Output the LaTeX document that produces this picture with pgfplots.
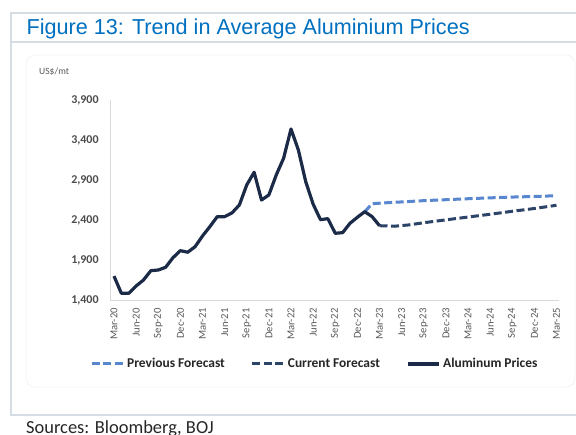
\documentclass[border=0pt]{standalone}
\usepackage{pgfplots}
\pgfplotsset{compat=1.18}
\usepackage{pgfplotstable}
\usepackage{fontspec}
\setmainfont{Carlito}
\newfontfamily\titlefont{Liberation Sans}
\definecolor{titleblue}{HTML}{0070C0}
\definecolor{framec}{HTML}{D5DCE4}
\definecolor{actc}{HTML}{1B2A47}
\definecolor{curc}{HTML}{2C4468}
\definecolor{prevc}{HTML}{5887CF}
\definecolor{labc}{HTML}{595959}
\definecolor{ylabc}{HTML}{4D4D4D}
\definecolor{legc}{HTML}{262626}
\definecolor{axc}{HTML}{D9D9D9}

\pgfplotstableread{
m v
0 1705
1 1490
2 1490
3 1581
4 1656
5 1773
6 1781
7 1815
8 1935
9 2023
10 2003
11 2073
12 2206
13 2323
14 2448
15 2448
16 2495
17 2594
18 2844
19 3003
20 2656
21 2719
22 2969
23 3178
24 3544
25 3281
26 2885
27 2605
28 2410
29 2423
30 2240
31 2248
32 2365
33 2440
34 2510
35 2448
36 2335
}\actual

\pgfplotstableread{
m v
34 2510
35 2610
37 2622
39 2632
42 2648
45 2660
48 2672
51 2683
54 2693
57 2700
60 2710
}\previous

\pgfplotstableread{
m v
36 2335
38 2328
40 2345
42 2372
45 2408
48 2443
51 2478
54 2515
57 2550
60 2590
}\current

\begin{document}
\begin{tikzpicture}[x=1bp,y=1bp]
\useasboundingbox (0,0) rectangle (576,435);
\fill[white] (0,0) rectangle (576,435);
\draw[framec, line width=2bp] (576,421.7) -- (11,421.7) -- (11,20) -- (576,20);
\draw[framec, line width=2bp] (11,393.3) -- (576,393.3);
\draw[gray!9, line width=0.8bp, rounded corners=9bp] (26,48) rectangle (575,380);
\node[anchor=base west, inner sep=0pt, text=titleblue, font=\titlefont\fontsize{21.7}{26}\selectfont] at (26.5,400) {Figure 13: Trend in Average Aluminium Prices};
\node[anchor=west, inner sep=0pt, text=labc, font=\fontsize{9.6}{11}\selectfont] at (39,363) {US\$/mt};
\node[anchor=base west, inner sep=0pt, text=legc, font=\fontsize{18.5}{22}\selectfont] at (26,1.5) {Sources: Bloomberg, BOJ};

\begin{axis}[
  at={(110.3bp,134.5bp)}, anchor=south west,
  scale only axis, width=448.4bp, height=200bp,
  xmin=-0.5, xmax=60.3, ymin=1400, ymax=3900,
  axis lines*=left,
  axis line style={draw=axc, line width=1bp},
  major tick length=0pt,
  xtick={0,3,...,60},
  xticklabels={Mar-20,Jun-20,Sep-20,Dec-20,Mar-21,Jun-21,Sep-21,Dec-21,Mar-22,Jun-22,Sep-22,Dec-22,Mar-23,Jun-23,Sep-23,Dec-23,Mar-24,Jun-24,Sep-24,Dec-24,Mar-25},
  xticklabel style={yshift=-7.5bp, rotate=90, anchor=east, inner sep=0pt, font=\fontsize{10.7}{12}\selectfont, text=labc},
  ytick={1400,1900,2400,2900,3400,3900},
  yticklabel style={anchor=east, inner sep=0pt, xshift=-11.5bp, font=\bfseries\fontsize{12}{14}\selectfont, text=ylabc,
    /pgf/number format/1000 sep={,}, /pgf/number format/assume math mode=true},
  legend columns=3,
  legend style={at={(axis description cs:-0.0453,-0.3175)}, anchor=west, draw=none, fill=none, inner sep=0pt,
    font=\bfseries\fontsize{13.5}{16}\selectfont, text=legc,
    nodes={inner sep=0pt},
    /tikz/every odd column/.append style={column sep=3bp},
    /tikz/every even column/.append style={column sep=26bp}},
  legend image code/.code={\draw[#1] (0bp,0bp) -- (31bp,0bp);},
  legend cell align=left,
]
\addplot[prevc, line width=3bp, dash pattern=on 8bp off 3.5bp] table[x=m,y=v] {\previous};
\addlegendentry{Previous Forecast}
\addplot[curc, line width=3bp, dash pattern=on 8bp off 3.5bp] table[x=m,y=v] {\current};
\addlegendentry{Current Forecast}
\addplot[actc, line width=3.2bp, line join=round] table[x=m,y=v] {\actual};
\addlegendentry{Aluminum Prices}
\end{axis}
\end{tikzpicture}
\end{document}
